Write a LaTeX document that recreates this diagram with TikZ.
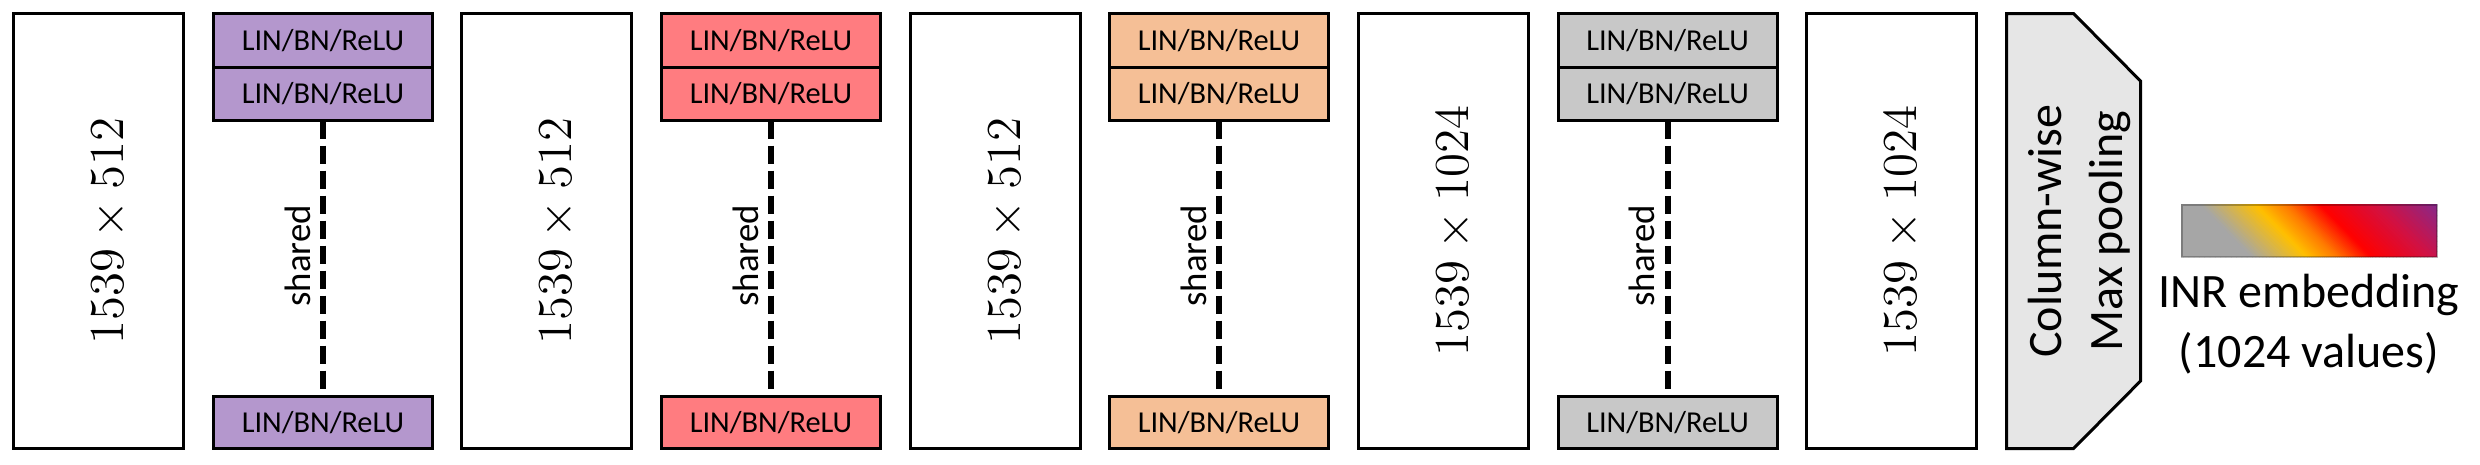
\RequirePackage{fix-cm}
\documentclass[tikz,border=0pt]{standalone}
\usepackage[no-math]{fontspec}
\newfontfamily\carl{Carlito}
\definecolor{cpurple}{HTML}{B497CD}
\definecolor{cred}{HTML}{FF7C80}
\definecolor{corange}{HTML}{F5BF96}
\definecolor{cgray}{HTML}{C8C8C8}
\definecolor{cpool}{HTML}{E6E6E6}
\definecolor{ggray}{HTML}{A6A6A6}
\definecolor{ggold}{HTML}{FFC000}
\definecolor{gorange}{HTML}{FF7A00}
\definecolor{gred}{HTML}{FF0000}
\definecolor{gcrim}{HTML}{D41040}
\definecolor{gpurp}{HTML}{7030A0}
\tikzset{
  box/.style={draw=black, line width=0.75pt, inner sep=0pt, outer sep=0pt},
  wbox/.style={box, fill=white, minimum width=42.5pt, minimum height=108.75pt},
  layer/.style={box, minimum width=54.75pt, minimum height=13.375pt, font=\carl\fontsize{7.6}{9}\selectfont},
  dimtext/.style={rotate=90, inner sep=0pt, font=\fontsize{12.2}{14}\selectfont},
  shareline/.style={line width=1.5pt, dash pattern=on 4.5pt off 1.75pt},
  sharetext/.style={rotate=90, anchor=base, inner sep=0pt, font=\carl\fontsize{9.2}{11}\selectfont},
  bigtext/.style={inner sep=0pt, font=\carl\fontsize{12}{15.25}\selectfont},
}
\begin{document}
\begin{tikzpicture}[x=0.25pt,y=-0.25pt]
\useasboundingbox (0,0) rectangle (2480,464);
% feature matrices
\node[wbox] (m1) at (98.5,231) {};
\node[wbox] (m2) at (546.75,231) {};
\node[wbox] (m3) at (995,231) {};
\node[wbox] (m4) at (1443.25,231) {};
\node[wbox] (m5) at (1891.5,231) {};
\node[dimtext] (d1) at (110,231) {$1539\times 512$};
\node[dimtext] (d2) at (558.25,231) {$1539\times 512$};
\node[dimtext] (d3) at (1006.5,231) {$1539\times 512$};
\node[dimtext] (d4) at (1454.75,231) {$1539\times 1024$};
\node[dimtext] (d5) at (1903,231) {$1539\times 1024$};
% shared layer stacks
\foreach \x/\col/\n in {323/cpurple/1, 771/cred/2, 1219/corange/3, 1667.5/cgray/4}{
  \node[layer, fill=\col] (a\n) at (\x,40.25) {LIN/BN/ReLU};
  \node[layer, fill=\col] (b\n) at (\x,93.75) {LIN/BN/ReLU};
  \node[layer, fill=\col, minimum height=13pt] (c\n) at (\x,422.5) {LIN/BN/ReLU};
  \draw[shareline] (b\n.south) -- ([yshift=1.875pt]c\n.north);
  \node[sharetext] (s\n) at ({\x-13},256) {shared};
}
% pooling
\draw[line width=0.75pt, fill=cpool] (2006.5,13.5) -- (2073.5,13.5) -- (2140.5,81) -- (2140.5,381) -- (2073.5,448.5) -- (2006.5,448.5) -- cycle;
\node[bigtext, rotate=90, align=center] (pool) at (2079,231) {Column-wise\\Max pooling};
% embedding gradient
\begin{scope}
\clip (2181,204) rectangle (2437,257);
\foreach \a/\b/\ca/\cb in {-40/45/ggray/ggray, 45/100/ggray/ggold, 100/130/ggold/gorange, 130/165/gorange/gred, 165/220/gred/gcrim, 220/300/gcrim/gpurp}{
  \foreach \i in {0,...,15}{
    \pgfmathsetmacro\pa{\a+(\b-\a)*\i/16}
    \pgfmathsetmacro\pb{\a+(\b-\a)*(\i+1)/16+1}
    \pgfmathsetmacro\pq{100-100*(\i+0.5)/16}
    \fill[\ca!\pq!\cb] ({2181+\pa-26},204) -- ({2181+\pb-26},204) -- ({2181+\pb+26},257) -- ({2181+\pa+26},257) -- cycle;
  }
}
\end{scope}
\node[draw=black, draw opacity=0.25, line width=0.5pt, inner sep=0pt, minimum width=63.75pt, minimum height=13pt] (emb) at (2309,230.5) {};
\node[bigtext, anchor=base] (lab1) at (2309,307) {INR embedding};
\node[bigtext, anchor=base] (lab2) at (2309,367) {(1024 values)};
\end{tikzpicture}
\end{document}
